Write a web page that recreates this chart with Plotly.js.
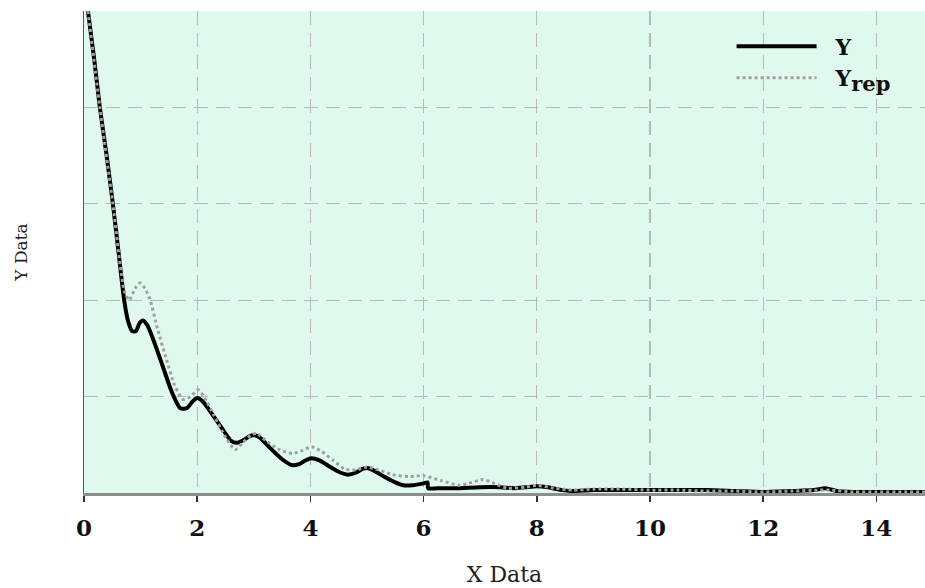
<!DOCTYPE html>
<html>
<head>
<meta charset="utf-8">
<script src="https://cdn.plot.ly/plotly-3.0.1.min.js"></script>
<style>html,body{margin:0;padding:0;background:#fff;}#chart{width:925px;height:588px;}</style>
</head>
<body>
<div id="chart"></div>
<script>
const xY = [0.07,0.18,0.28,0.4,0.51,0.61,0.71,0.78,0.85,0.92,0.98,1.04,1.12,1.25,1.4,1.55,1.7,1.82,1.92,2.0,2.1,2.25,2.45,2.6,2.7,2.82,2.93,3.02,3.12,3.3,3.5,3.67,3.8,3.92,4.02,4.15,4.35,4.5,4.66,4.8,4.92,5.0,5.1,5.3,5.5,5.64,5.8,6.0,6.07,6.08,6.3,6.6,7.0,7.35,7.6,7.8,8.0,8.2,8.45,8.64,9.0,9.5,10.0,10.5,11.0,11.5,12.0,12.5,12.9,13.1,13.3,13.6,14.0,14.5,14.86];
const yY = [5.0,4.5,4.0,3.5,3.0,2.5,2.0,1.78,1.68,1.68,1.76,1.79,1.74,1.55,1.3,1.05,0.88,0.88,0.95,0.985,0.95,0.83,0.66,0.54,0.52,0.55,0.59,0.60,0.57,0.46,0.35,0.29,0.30,0.34,0.36,0.34,0.27,0.22,0.19,0.21,0.25,0.26,0.24,0.17,0.11,0.08,0.08,0.10,0.11,0.05,0.05,0.05,0.06,0.06,0.05,0.06,0.07,0.06,0.03,0.02,0.03,0.03,0.03,0.03,0.03,0.02,0.01,0.02,0.03,0.05,0.02,0.01,0.01,0.01,0.01];
const xRep = [0.07,0.28,0.51,0.71,0.8,0.9,0.99,1.08,1.17,1.3,1.45,1.6,1.75,1.88,2.02,2.12,2.3,2.5,2.67,2.8,2.95,3.05,3.2,3.45,3.69,3.85,4.02,4.2,4.4,4.6,4.8,5.0,5.2,5.45,5.76,6.0,6.3,6.64,6.85,7.05,7.25,7.47,7.8,8.0,8.3,8.64,9.0,9.5,10.0,10.5,11.0,11.5,12.0,12.5,13.0,13.2,13.6,14.0,14.5,14.86];
const yRep = [5.0,4.0,3.0,2.1,2.0,2.12,2.18,2.12,2.0,1.7,1.4,1.12,0.97,1.0,1.07,1.0,0.8,0.58,0.45,0.52,0.6,0.62,0.55,0.45,0.41,0.44,0.48,0.43,0.34,0.25,0.24,0.27,0.24,0.19,0.17,0.18,0.13,0.08,0.11,0.14,0.10,0.05,0.06,0.08,0.05,0.03,0.04,0.04,0.03,0.03,0.02,0.02,0.01,0.02,0.03,0.03,0.01,0.01,0.01,0.01];
const xTicks = [0,2,4,6,8,10,12,14];
const xTickLabels = ['0','2','4','6','8','10','12','14'];

const serif = 'DejaVu Serif, Liberation Serif, serif';
const traces = [
  {x: xY, y: yY, name: '&nbsp;&nbsp;<b>Y</b>', type: 'scatter', mode: 'lines',
   line: {color: '#000000', width: 4, shape: 'spline', smoothing: 0.6}},
  {x: xRep, y: yRep, name: '&nbsp;&nbsp;<b>Y<sub><span style="font-size:21px">rep</span></sub></b>', type: 'scatter', mode: 'lines',
   line: {color: '#a0a0a0', width: 3, dash: 'dot', shape: 'spline', smoothing: 0.6}}
];
const layout = {
  width: 925, height: 588,
  margin: {l: 84, r: 0, t: 11, b: 95},
  paper_bgcolor: '#ffffff',
  plot_bgcolor: '#e0f9ee',
  showlegend: true,
  legend: {x: 0.77, y: 0.97, xanchor: 'left', yanchor: 'top', bgcolor: 'rgba(0,0,0,0)',
           font: {family: serif, size: 22, color: '#111'}, itemwidth: 80, tracegroupgap: 0},
  xaxis: {range: [0, 14.86], tickvals: xTicks, ticktext: xTickLabels,
          ticks: 'outside', ticklen: 6, tickwidth: 1.5, tickcolor: '#333', ticklabelstandoff: 6,
          tickfont: {family: serif, size: 23, color: '#111', weight: 'bold'},
          showgrid: true, gridcolor: '#b4bcb6', gridwidth: 1.2, griddash: '14px,8px',
          showline: true, linecolor: '#8a8f8c', linewidth: 3, zeroline: false,
          title: {text: 'X Data', font: {family: serif, size: 22, color: '#222'}, standoff: 28}},
  yaxis: {range: [0, 5], dtick: 1, showticklabels: false, ticks: '',
          showgrid: true, gridcolor: '#b4bcb6', gridwidth: 1.2, griddash: '14px,8px',
          showline: true, linecolor: '#555', linewidth: 1.5, mirror: true, zeroline: false,
          title: {text: 'Y Data', font: {family: serif, size: 17, color: '#222'}, standoff: 50}}
};
Plotly.newPlot('chart', traces, layout, {displayModeBar: false, staticPlot: true});
</script>
</body>
</html>
